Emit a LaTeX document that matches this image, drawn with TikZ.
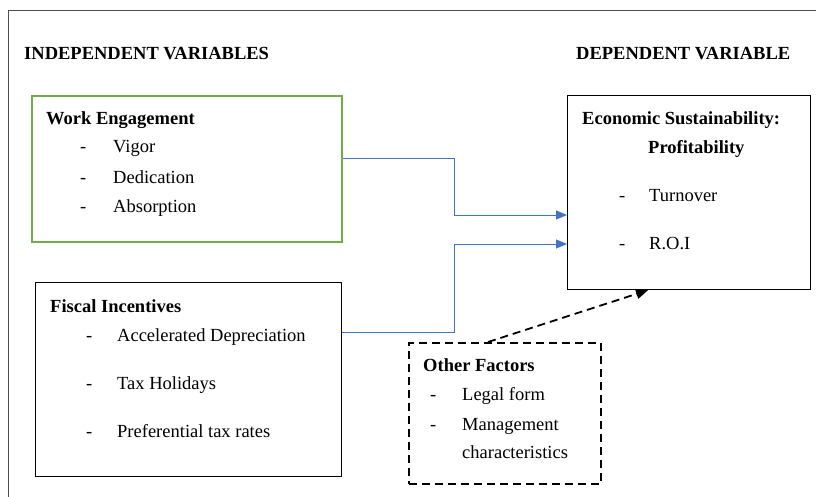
\documentclass[tikz,border=0pt]{standalone}
\usepackage{fontspec}
\setmainfont{Liberation Serif}
\usetikzlibrary{arrows.meta}
\definecolor{grn}{HTML}{70AD47}
\definecolor{blu}{HTML}{4472C4}
\begin{document}
\begin{tikzpicture}[x=1pt,y=-1pt,
  box/.style={rectangle, inner sep=0pt, anchor=north west, line width=1.2pt},
  txt/.style={anchor=base west, inner sep=0pt, font=\fontsize{18.5}{20}\selectfont},
  hdr/.style={anchor=base west, inner sep=0pt, font=\fontsize{18.5}{20}\selectfont\bfseries},
  conn/.style={draw=blu, line width=0.9pt, -{Triangle[length=11pt,width=9pt]}},
  dconn/.style={draw=black, line width=1.8pt, dash pattern=on 8pt off 5pt, -{Triangle[length=12pt,width=10pt]}}
]
\useasboundingbox (0,0) rectangle (816,497);
\draw[line width=0.8pt, black!70] (816,10) -- (8,10) -- (8,497);

\node[hdr] (hind) at (24,60) {INDEPENDENT VARIABLES};
\node[hdr] (hdep) at (576,60) {DEPENDENT VARIABLE};

\node[box, draw=grn, line width=1.6pt, minimum width=310pt, minimum height=146pt] (we) at (31,95) {};
\node[box, draw=black, minimum width=306pt, minimum height=194pt] (fi) at (35,282) {};
\node[box, draw=black, minimum width=243pt, minimum height=194pt] (es) at (567,95) {};
\node[box, draw=black, line width=1.6pt, dash pattern=on 8pt off 5pt, minimum width=192pt, minimum height=141pt] (of) at (408,342) {};

\node[hdr] (weh) at (46,125) {Work Engagement};
\node[txt] (wed1) at (80,153) {-};
\node[txt] (we1) at (113,153) {Vigor};
\node[txt] (wed2) at (80,183) {-};
\node[txt] (we2) at (113,183) {Dedication};
\node[txt] (wed3) at (80,212) {-};
\node[txt] (we3) at (113,212) {Absorption};

\node[hdr] (fih) at (50,312) {Fiscal Incentives};
\node[txt] (fid1) at (86,341) {-};
\node[txt] (fi1) at (117,341) {Accelerated Depreciation};
\node[txt] (fid2) at (86,389) {-};
\node[txt] (fi2) at (117,389) {Tax Holidays};
\node[txt] (fid3) at (86,437) {-};
\node[txt] (fi3) at (117,437) {Preferential tax rates};

\node[hdr] (esh) at (582,125) {Economic Sustainability:};
\node[hdr] (esh2) at (648,154) {Profitability};
\node[txt] (esd1) at (619,201) {-};
\node[txt] (es1) at (649,201) {Turnover};
\node[txt] (esd2) at (619,249) {-};
\node[txt] (es2) at (649,249) {R.O.I};

\node[hdr] (ofh) at (423,371) {Other Factors};
\node[txt] (ofd1) at (430,400) {-};
\node[txt] (of1) at (462,400) {Legal form};
\node[txt] (ofd2) at (430,430) {-};
\node[txt] (of2) at (462,430) {Management};
\node[txt] (of3) at (462,458) {characteristics};

\coordinate (ya) at (0,158);
\coordinate (yb) at (0,215);
\coordinate (yc) at (0,332);
\coordinate (yd) at (0,244);
\coordinate (xm) at (454,0);
\coordinate (xs) at (488,0);
\coordinate (xe) at (648,0);

\draw[conn] (we.east |- ya) -- (xm |- ya) -- (xm |- yb) -- (es.west |- yb);
\draw[conn] (fi.east |- yc) -- (xm |- yc) -- (xm |- yd) -- (es.west |- yd);
\draw[dconn] (of.north -| xs) -- (es.south -| xe);
\end{tikzpicture}
\end{document}
